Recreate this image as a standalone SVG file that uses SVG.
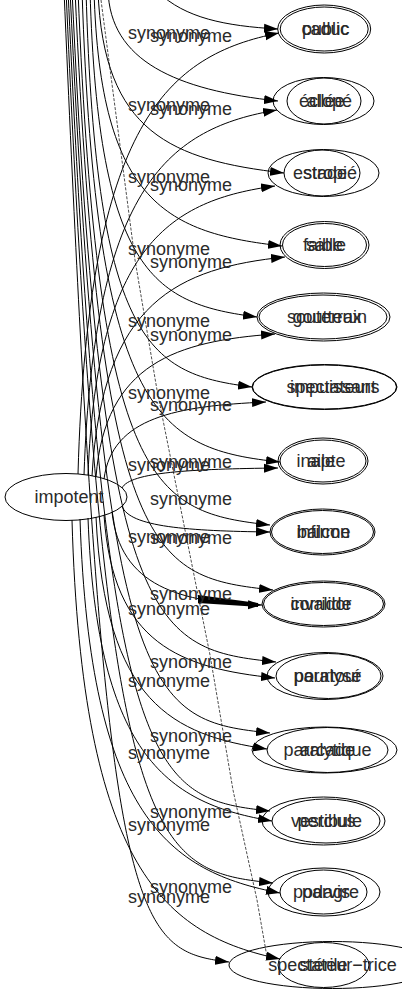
<svg xmlns="http://www.w3.org/2000/svg" width="402" height="995" viewBox="0 0 402 995">
<defs>
<style>
text{font-family:"Liberation Sans",Arial,sans-serif;font-size:18px;fill:#2a2a2a}
.n ellipse{fill:none;stroke:#000;stroke-width:1}
.n text{text-anchor:middle}
.e path{fill:none;stroke:#000;stroke-width:1;marker-end:url(#ah)}
.e polyline{fill:none;stroke:#000;stroke-width:0.7;stroke-dasharray:3 1.5}
</style>
<marker id="ah" markerWidth="14" markerHeight="10" refX="14" refY="5" orient="auto" markerUnits="userSpaceOnUse"><path d="M0,0.5 L14,5 L0,9.5 Z" fill="#000"/></marker>
</defs>
<rect width="402" height="995" fill="#fff"/>
<g id="connectors" class="e">
<path d="M158,-8 C185,18 225,26 278,29"/>
<path d="M108,-10 C110,61 176,90 278,101"/>
<path d="M98,-10 C103,133 172,160 284,173"/>
<path d="M94,-10 C100,205 169,233 282,246"/>
<path d="M90,-10 C98,277 157,304 257,317"/>
<path d="M86,-10 C96,349 152,374 252,387"/>
<path d="M82,-10 C96,421 161,449 280,462"/>
<path d="M78,-10 C98,493 155,512 270,525"/>
<path d="M75,-10 C101,565 154,577 273,590"/>
<path d="M72,-10 C102,637 154,649 276,662"/>
<path d="M70,-10 C104,709 150,720 270,733"/>
<path d="M68,-10 C104,781 149,798 270,811"/>
<path d="M66,-10 C104,853 149,870 273,883"/>
<path d="M64,-10 C104,925 130,950 229,962"/>
<path d="M78,474 C88,121 168,55 279,33"/>
<path d="M84,475 C94,183 171,128 277,110"/>
<path d="M88,475 C97,244 172,200 275,186"/>
<path d="M92,476 C102,301 179,268 285,257"/>
<path d="M96,477 C105,363 177,341 275,334"/>
<path d="M104,479 C112,417 177,406 266,402"/>
<path d="M122,488 C130,472 192,469 278,468"/>
<path d="M122,506 C129,527 189,531 270,532"/>
<path d="M112,512 C120,586 180,603 262,605"/>
<path d="M104,515 C113,645 181,668 275,678"/>
<path d="M96,517 C105,703 173,735 267,749"/>
<path d="M88,518 C97,760 171,804 272,821"/>
<path d="M80,519 C90,818 170,872 280,893"/>
<path d="M72,520 C82,871 166,935 280,959"/>
<polyline points="101,0 118,130 135,260 157,390 183,520 210,655 233,790 257,900 267,957"/>
<polygon points="198,595 258,603 258,607 198,603" fill="#000"/>
<g id="edge-labels">
<text x="128" y="39">synonyme</text>
<text x="128" y="111">synonyme</text>
<text x="128" y="183">synonyme</text>
<text x="128" y="255">synonyme</text>
<text x="128" y="327">synonyme</text>
<text x="128" y="399">synonyme</text>
<text x="128" y="471">synonyme</text>
<text x="128" y="543">synonyme</text>
<text x="128" y="615">synonyme</text>
<text x="128" y="687">synonyme</text>
<text x="128" y="759">synonyme</text>
<text x="128" y="831">synonyme</text>
<text x="128" y="903">synonyme</text>
<text x="150" y="42">synonyme</text>
<text x="150" y="115">synonyme</text>
<text x="150" y="191">synonyme</text>
<text x="150" y="268">synonyme</text>
<text x="150" y="341">synonyme</text>
<text x="150" y="411">synonyme</text>
<text x="150" y="468">synonyme</text>
<text x="150" y="505">synonyme</text>
<text x="150" y="544">synonyme</text>
<text x="150" y="600">synonyme</text>
<text x="150" y="668">synonyme</text>
<text x="150" y="742">synonyme</text>
<text x="150" y="818">synonyme</text>
<text x="150" y="893">synonyme</text>
</g>
</g>
<g id="impotent" class="n"><ellipse cx="66" cy="497" rx="61" ry="23.5"/><text x="69" y="503">impotent</text></g>
<g id="n1" class="n"><ellipse cx="324.2" cy="29" rx="46.5" ry="24"/><ellipse cx="324.2" cy="29" rx="44" ry="22"/><text x="325.5" y="35">public</text><text x="325.5" y="35">caduc</text></g>
<g id="n2" class="n"><ellipse cx="323.5" cy="101" rx="50.5" ry="23.5"/><ellipse cx="324" cy="101" rx="37" ry="23"/><text x="325.5" y="107">allée</text><text x="325.5" y="107">éclopé</text></g>
<g id="n3" class="n"><ellipse cx="322" cy="173" rx="38" ry="23"/><ellipse cx="323.5" cy="173" rx="55.5" ry="23.5"/><text x="325" y="179">stade</text><text x="325" y="179">estropié</text></g>
<g id="n4" class="n"><ellipse cx="324.5" cy="245" rx="44.5" ry="23.5"/><ellipse cx="324.5" cy="245" rx="42" ry="21.5"/><text x="324.5" y="251">salle</text><text x="324.5" y="251">faible</text></g>
<g id="n5" class="n"><ellipse cx="323.5" cy="317" rx="66.5" ry="24"/><ellipse cx="323" cy="317" rx="64" ry="22"/><text x="327" y="323">souterrain</text><text x="327" y="323">goutteux</text></g>
<g id="n6" class="n"><ellipse cx="324.5" cy="387" rx="72.5" ry="22.5"/><ellipse cx="324.5" cy="387" rx="72" ry="22"/><text x="333" y="393">spectateurs</text><text x="333" y="393">impuissant</text></g>
<g id="n7" class="n"><ellipse cx="323" cy="461" rx="45" ry="23"/><ellipse cx="323" cy="461" rx="43" ry="21"/><text x="321" y="467">aile</text><text x="321" y="467">inapte</text></g>
<g id="n8" class="n"><ellipse cx="322.5" cy="532" rx="52.5" ry="23"/><ellipse cx="322.5" cy="532" rx="51" ry="21.5"/><text x="323.5" y="538">balcon</text><text x="323.5" y="538">infirme</text></g>
<g id="n9" class="n"><ellipse cx="323.5" cy="604" rx="61.5" ry="23"/><ellipse cx="323.5" cy="604" rx="60" ry="21.5"/><text x="321" y="610">corridor</text><text x="321" y="610">invalide</text></g>
<g id="n10" class="n"><ellipse cx="325" cy="676" rx="58" ry="23.5"/><ellipse cx="328.5" cy="676" rx="52.5" ry="22.5"/><text x="327.5" y="682">pourtour</text><text x="327.5" y="682">paralysé</text></g>
<g id="n11" class="n"><ellipse cx="324.5" cy="750" rx="72.5" ry="23"/><ellipse cx="327.5" cy="750" rx="60.5" ry="22.5"/><text x="327.5" y="756">arcade</text><text x="327.5" y="756">paralytique</text></g>
<g id="n12" class="n"><ellipse cx="323.5" cy="821" rx="61.5" ry="24"/><ellipse cx="326" cy="821" rx="54" ry="22"/><text x="326.5" y="827">vestibule</text><text x="326.5" y="827">perclus</text></g>
<g id="n13" class="n"><ellipse cx="324" cy="892" rx="56" ry="24"/><ellipse cx="323.5" cy="892" rx="43.5" ry="22"/><text x="326" y="898">parvis</text><text x="326" y="898">podagre</text></g>
<g id="n14" class="n"><ellipse cx="332.5" cy="965" rx="103.5" ry="23.5"/><ellipse cx="323.5" cy="965" rx="45.5" ry="22.5"/><text x="332.5" y="971">spectateur−trice</text><text x="323.5" y="971">stérile</text></g>
</svg>
